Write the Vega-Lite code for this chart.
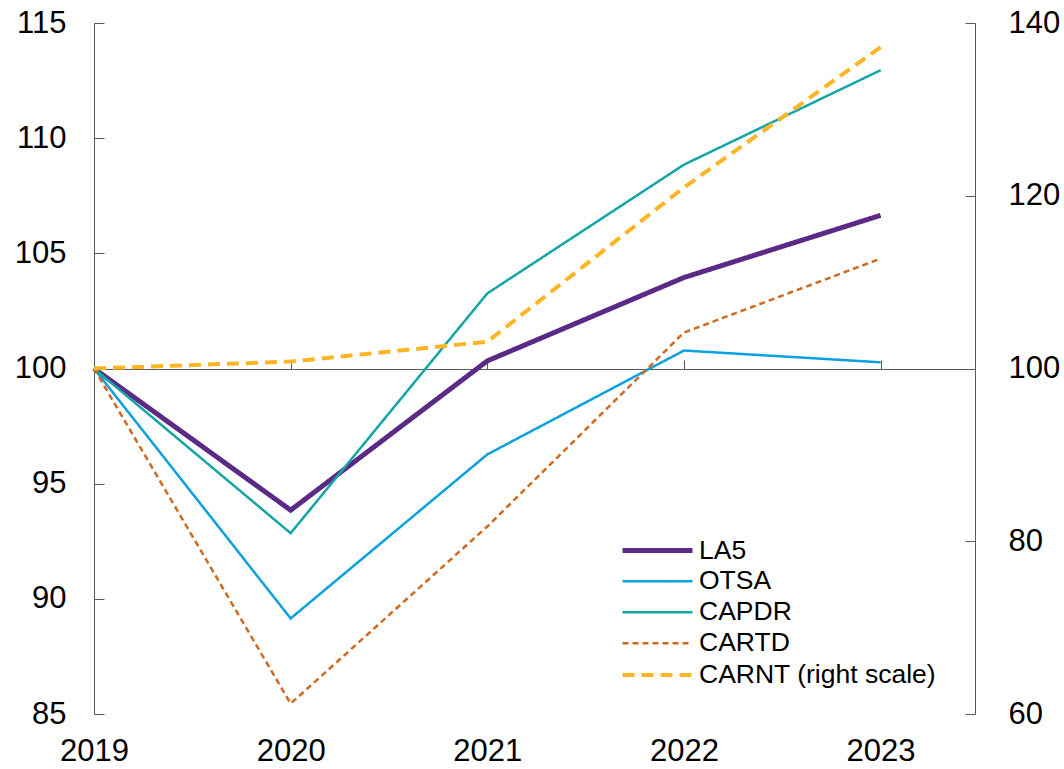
{
  "$schema": "https://vega.github.io/schema/vega-lite/v6.json",
  "width": 881,
  "height": 691,
  "autosize": "none",
  "padding": {"left": 94, "top": 23, "right": 89, "bottom": 55},
  "background": "white",
  "config": {
    "view": {"stroke": null},
    "font": "Liberation Sans",
    "axis": {"grid": false, "domainColor": "#595959", "tickColor": "#595959", "labelColor": "#000000", "labelFont": "Liberation Sans", "labelFontSize": 31, "title": null},
    "legend": {"labelLimit": 500}
  },
  "data": {
    "values": [
      {"year": 2019, "series": "LA5", "value": 100},
      {"year": 2020, "series": "LA5", "value": 93.85},
      {"year": 2021, "series": "LA5", "value": 100.33},
      {"year": 2022, "series": "LA5", "value": 103.95},
      {"year": 2023, "series": "LA5", "value": 106.65},
      {"year": 2019, "series": "OTSA", "value": 100},
      {"year": 2020, "series": "OTSA", "value": 89.15},
      {"year": 2021, "series": "OTSA", "value": 96.27},
      {"year": 2022, "series": "OTSA", "value": 100.78},
      {"year": 2023, "series": "OTSA", "value": 100.27},
      {"year": 2019, "series": "CAPDR", "value": 100},
      {"year": 2020, "series": "CAPDR", "value": 92.85},
      {"year": 2021, "series": "CAPDR", "value": 103.26},
      {"year": 2022, "series": "CAPDR", "value": 108.85},
      {"year": 2023, "series": "CAPDR", "value": 112.95},
      {"year": 2019, "series": "CARTD", "value": 100},
      {"year": 2020, "series": "CARTD", "value": 85.45},
      {"year": 2021, "series": "CARTD", "value": 93.14},
      {"year": 2022, "series": "CARTD", "value": 101.56},
      {"year": 2023, "series": "CARTD", "value": 104.77},
      {"year": 2019, "series": "CARNT (right scale)", "value": 100},
      {"year": 2020, "series": "CARNT (right scale)", "value": 100.8},
      {"year": 2021, "series": "CARNT (right scale)", "value": 103.1},
      {"year": 2022, "series": "CARNT (right scale)", "value": 120.96},
      {"year": 2023, "series": "CARNT (right scale)", "value": 137.2}
    ]
  },
  "encoding": {
    "x": {
      "field": "year", "type": "quantitative",
      "scale": {"domain": [2019, 2023.48], "nice": false, "zero": false}
    },
    "color": {
      "field": "series", "type": "nominal",
      "scale": {
        "domain": ["LA5", "OTSA", "CAPDR", "CARTD", "CARNT (right scale)"],
        "range": ["#5B2A86", "#0BA0DF", "#14A6A6", "#D06A21", "#FDB525"]
      },
      "legend": {
        "title": null, "orient": "none", "legendX": 549, "legendY": 513,
        "symbolType": "M-3,0H3", "symbolSize": 544, "rowPadding": 4, "labelLimit": 500,
        "labelFontSize": 26.5, "labelFont": "Liberation Sans", "labelColor": "#000000", "labelOffset": 27
      }
    },
    "strokeDash": {
      "field": "series", "type": "nominal",
      "scale": {
        "domain": ["LA5", "OTSA", "CAPDR", "CARTD", "CARNT (right scale)"],
        "range": [[1, 0], [1, 0], [1, 0], [6, 4], [12, 7]]
      },
      "legend": {
        "title": null, "orient": "none", "legendX": 549, "legendY": 513,
        "symbolType": "M-3,0H3", "symbolSize": 544, "rowPadding": 4, "labelLimit": 500,
        "labelFontSize": 26.5, "labelFont": "Liberation Sans", "labelColor": "#000000", "labelOffset": 27
      }
    },
    "strokeWidth": {
      "field": "series", "type": "nominal",
      "scale": {
        "type": "ordinal",
        "domain": ["LA5", "OTSA", "CAPDR", "CARTD", "CARNT (right scale)"],
        "range": [5, 2.5, 2.5, 2.5, 4]
      },
      "legend": {
        "title": null, "orient": "none", "legendX": 549, "legendY": 513,
        "symbolType": "M-3,0H3", "symbolSize": 544, "rowPadding": 4, "labelLimit": 500,
        "labelFontSize": 26.5, "labelFont": "Liberation Sans", "labelColor": "#000000", "labelOffset": 27
      }
    }
  },
  "layer": [
    {
      "transform": [{"filter": "datum.series !== 'CARNT (right scale)'"}],
      "mark": {"type": "line", "strokeCap": "butt", "strokeJoin": "miter"},
      "encoding": {
        "x": {
          "field": "year", "type": "quantitative",
          "axis": {"orient": "bottom", "values": [2019, 2020, 2021, 2022, 2023], "format": "d", "domain": false, "ticks": false, "labelPadding": 22, "labelFlush": false}
        },
        "y": {
          "field": "value", "type": "quantitative",
          "scale": {"domain": [85, 115], "nice": false, "zero": false},
          "axis": {"orient": "left", "values": [85, 90, 95, 100, 105, 110, 115], "domain": true, "ticks": true, "tickSize": -10, "labelPadding": 38}
        }
      }
    },
    {
      "transform": [{"filter": "datum.series === 'CARNT (right scale)'"}],
      "mark": {"type": "line", "strokeCap": "butt", "strokeJoin": "miter"},
      "encoding": {
        "x": {
          "field": "year", "type": "quantitative",
          "axis": {"orient": "top", "offset": -346, "values": [2019, 2020, 2021, 2022, 2023], "domain": true, "ticks": true, "tickSize": 9, "labels": false}
        },
        "y": {
          "field": "value", "type": "quantitative",
          "scale": {"domain": [60, 140], "nice": false, "zero": false},
          "axis": {"orient": "right", "values": [60, 80, 100, 120, 140], "domain": true, "ticks": true, "tickSize": -10, "labelPadding": 43}
        }
      }
    }
  ],
  "resolve": {"scale": {"y": "independent"}, "axis": {"y": "independent", "x": "independent"}}
}
